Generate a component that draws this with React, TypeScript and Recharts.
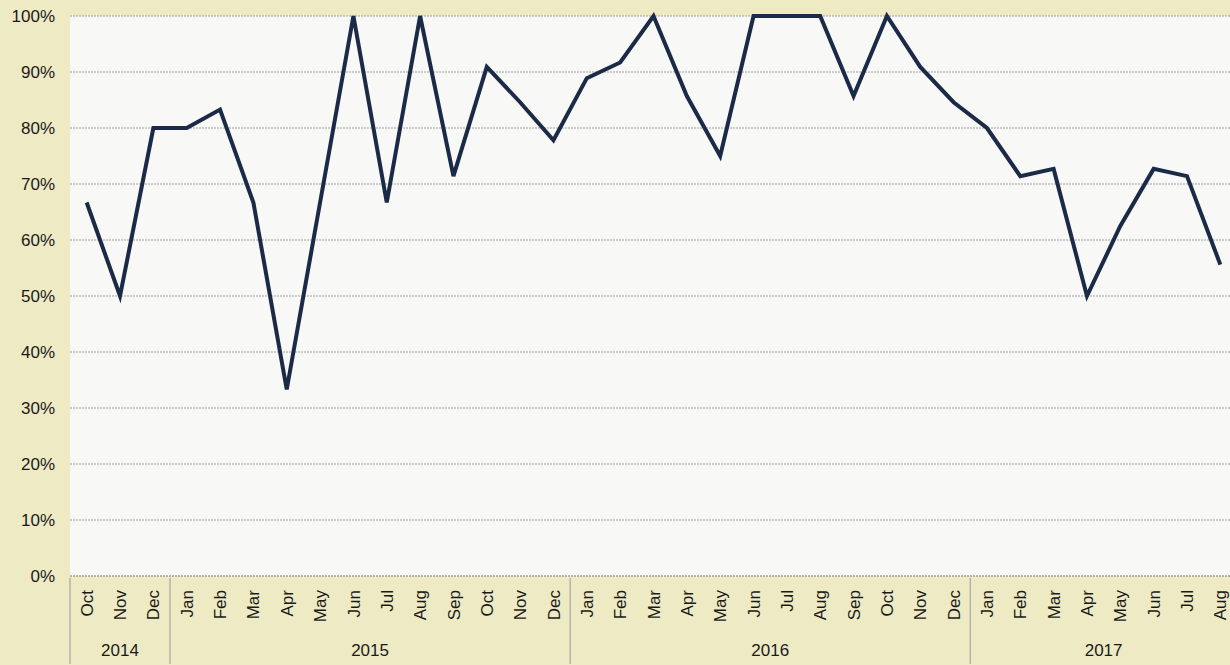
import React from 'react';
import { LineChart, Line, XAxis, YAxis, CartesianGrid } from 'recharts';

// monthly share, Oct 2014 – Aug 2017
const months = [
  'Oct', 'Nov', 'Dec',
  'Jan', 'Feb', 'Mar', 'Apr', 'May', 'Jun', 'Jul', 'Aug', 'Sep', 'Oct', 'Nov', 'Dec',
  'Jan', 'Feb', 'Mar', 'Apr', 'May', 'Jun', 'Jul', 'Aug', 'Sep', 'Oct', 'Nov', 'Dec',
  'Jan', 'Feb', 'Mar', 'Apr', 'May', 'Jun', 'Jul', 'Aug'
];
const years = [
  2014, 2014, 2014,
  2015, 2015, 2015, 2015, 2015, 2015, 2015, 2015, 2015, 2015, 2015, 2015,
  2016, 2016, 2016, 2016, 2016, 2016, 2016, 2016, 2016, 2016, 2016, 2016,
  2017, 2017, 2017, 2017, 2017, 2017, 2017, 2017
];
const values = [
  66.7, 50, 80,
  80, 83.3, 66.7, 33.3, 66.7, 100, 66.7, 100, 71.4, 90.9, 84.6, 77.8,
  88.9, 91.7, 100, 85.7, 75, 100, 100, 100, 85.7, 100, 90.9, 84.6,
  80, 71.4, 72.7, 50, 62.5, 72.7, 71.4, 55.6
];
const yTicks = [0, 10, 20, 30, 40, 50, 60, 70, 80, 90, 100];

const data = values.map((v, i) => ({ key: `${years[i]}-${i}`, value: v }));

const CHART_W = 1240;
const LEFT = 70;
const RIGHT_MARGIN = 3;
const BAND = (CHART_W - LEFT - RIGHT_MARGIN) / months.length;
const FONT = 'Arial, "Liberation Sans", sans-serif';

const MonthTick = (props: any) => {
  const { x, y, payload } = props;
  const i = payload.index;
  const month = months[i];
  const year = years[i];
  const startsYear = i === 0 || years[i - 1] !== year;
  let yearLabel = null;
  if (startsYear) {
    const count = years.filter(yy => yy === year).length;
    const cx = x - BAND / 2 + (count * BAND) / 2;
    yearLabel = (
      <text x={cx} y={y + 72} textAnchor="middle" dominantBaseline="central" fontSize={17} fill="#1a1a1a" fontFamily={FONT}>
        {year}
      </text>
    );
  }
  const top = y + 12;
  return (
    <g>
      {startsYear && (
        <line x1={x - BAND / 2} x2={x - BAND / 2} y1={y} y2={y + 86} stroke="#9a9a9a" strokeWidth={1} />
      )}
      <text
        x={x}
        y={top}
        dy="0.36em"
        textAnchor="end"
        fontSize={17}
        fill="#1a1a1a"
        fontFamily={FONT}
        transform={`rotate(-90, ${x}, ${top})`}
      >
        {month}
      </text>
      {yearLabel}
    </g>
  );
};

export default function App() {
  return (
    <div
      style={{
        position: 'absolute',
        left: 0,
        top: 0,
        width: 1230,
        height: 665,
        overflow: 'hidden',
        background: '#eeeac3'
      }}
    >
      <LineChart
        width={CHART_W}
        height={665}
        data={data}
        margin={{ top: 16, right: RIGHT_MARGIN, left: 8, bottom: 0 }}
      >
        <CartesianGrid vertical={false} fill="#f8f8f6" stroke="#a0a0a0" strokeDasharray="2 1" />
        <XAxis
          dataKey="key"
          interval={0}
          height={89}
          padding={{ left: BAND / 2, right: BAND / 2 }}
          axisLine={{ stroke: '#a0a0a0', strokeDasharray: '2 1' }}
          tickLine={false}
          tickSize={0}
          tick={<MonthTick />}
        />
        <YAxis
          domain={[0, 100]}
          ticks={yTicks}
          width={62}
          axisLine={false}
          tickLine={false}
          tickSize={0}
          tickMargin={15}
          tickFormatter={(v: number) => `${v}%`}
          tick={{ fontSize: 17, fill: '#1a1a1a', fontFamily: FONT }}
        />
        <Line
          type="linear"
          dataKey="value"
          stroke="#1b2a47"
          strokeWidth={4}
          dot={false}
          isAnimationActive={false}
        />
      </LineChart>
    </div>
  );
}
